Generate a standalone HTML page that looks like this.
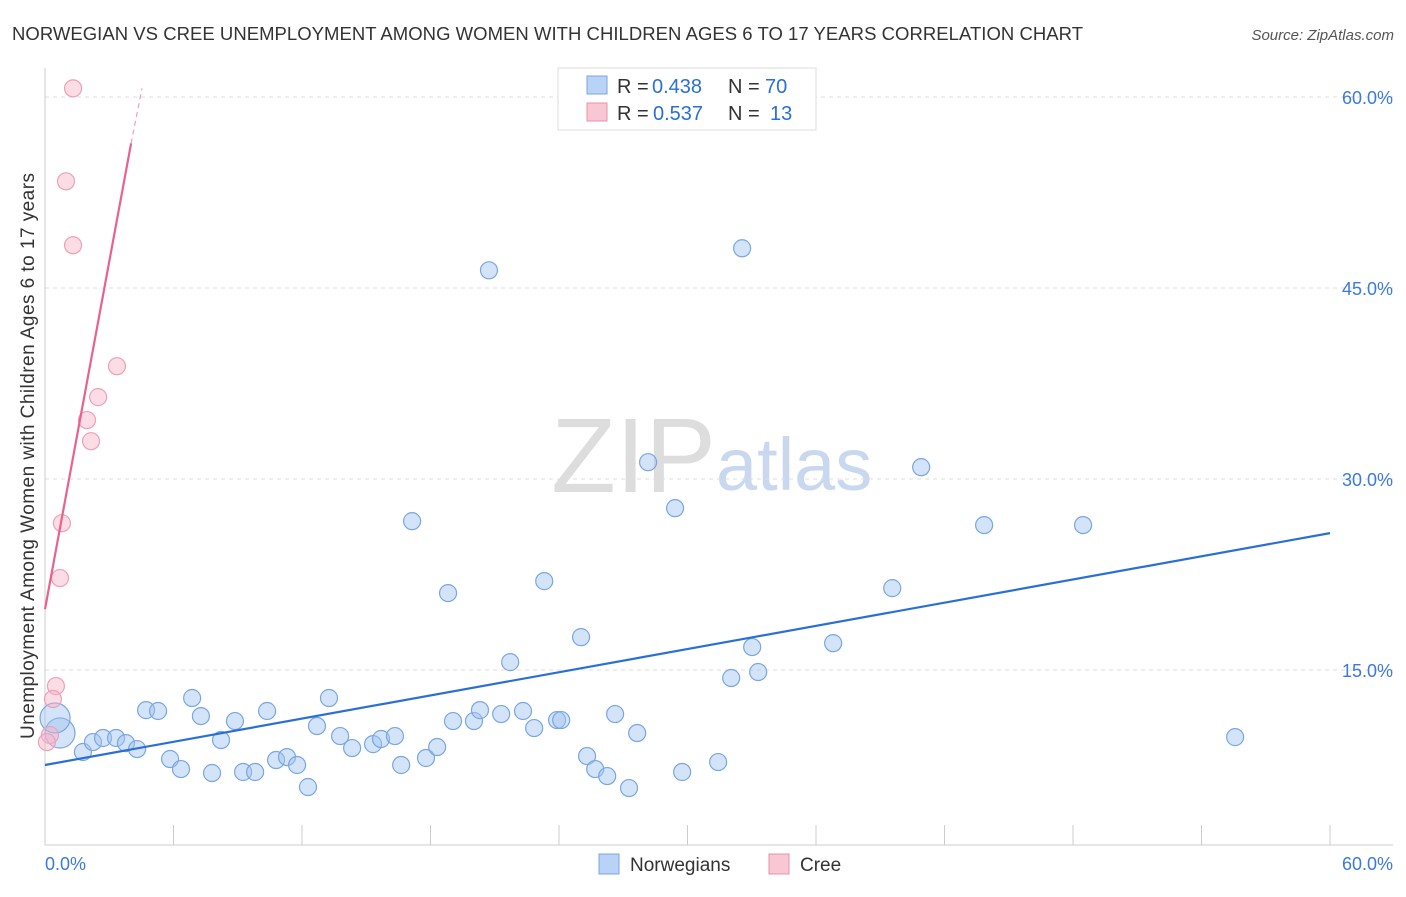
<!DOCTYPE html>
<html><head><meta charset="utf-8"><style>
body{margin:0;background:#fff;width:1406px;height:892px;overflow:hidden;font-family:"Liberation Sans",sans-serif}
svg text{font-family:"Liberation Sans",sans-serif}
</style></head><body>
<svg id="chart" width="1406" height="892">
<text x="12" y="40" font-size="18.5" fill="#333" textLength="1071">NORWEGIAN VS CREE UNEMPLOYMENT AMONG WOMEN WITH CHILDREN AGES 6 TO 17 YEARS CORRELATION CHART</text>
<text x="1394" y="40" font-size="15" fill="#555" font-style="italic" text-anchor="end">Source: ZipAtlas.com</text>
<text x="716" y="492" font-size="106" fill="#ddd" text-anchor="end" font-family="Liberation Serif">ZIP</text>
<text x="716" y="490" font-size="74" fill="#c9d8ef">atlas</text>
<text transform="translate(34,456) rotate(-90)" font-size="19" fill="#333" text-anchor="middle" textLength="566">Unemployment Among Women with Children Ages 6 to 17 years</text>
<g id="grid"></g><g id="marks"></g>
<g>
<rect x="558" y="68" width="258" height="62" fill="#fff" stroke="#ddd"/>
<rect x="587" y="76" width="20" height="18" fill="#b8d3f5" stroke="#7aa6e0"/>
<rect x="587" y="103" width="20" height="18" fill="#f9c6d4" stroke="#e890aa"/>
<text x="617" y="93" font-size="20" fill="#333">R =</text><text x="652" y="93" font-size="20" fill="#2a6fd6">0.438</text>
<text x="728" y="93" font-size="20" fill="#333">N =</text><text x="765" y="93" font-size="20" fill="#2a6fd6">70</text>
<text x="617" y="120" font-size="20" fill="#333">R =</text><text x="653" y="120" font-size="20" fill="#2a6fd6">0.537</text>
<text x="728" y="120" font-size="20" fill="#333">N =</text><text x="770" y="120" font-size="20" fill="#2a6fd6">13</text>
</g>
<g>
<rect x="599" y="854" width="20" height="20" fill="#b8d3f5" stroke="#7aa6e0"/>
<text x="630" y="871" font-size="19" fill="#333">Norwegians</text>
<rect x="769" y="854" width="20" height="20" fill="#f9c6d4" stroke="#e890aa"/>
<text x="800" y="871" font-size="19" fill="#333">Cree</text>
</g>
</svg>
<script>
const blueX=[0.70,0.47,1.77,2.24,2.71,3.32,3.78,4.30,4.72,5.28,5.84,6.35,6.87,7.28,7.80,8.22,8.87,9.25,9.81,10.37,10.79,11.30,11.77,12.28,12.70,13.26,13.78,14.34,15.32,15.69,16.34,16.63,17.14,17.79,18.31,18.82,19.05,20.03,20.31,20.73,21.30,21.72,22.32,22.84,23.31,23.91,24.10,25.03,25.31,25.69,26.25,26.62,27.27,27.65,28.16,29.42,29.75,31.43,32.04,32.55,33.02,33.30,36.80,39.56,40.91,43.85,48.47,55.57];
const blueY=[10.05,11.23,8.56,9.34,9.66,9.66,9.26,8.79,11.85,11.78,8.01,7.22,12.80,11.38,6.91,9.50,10.99,6.99,6.99,11.78,7.93,8.16,7.54,5.81,10.60,12.80,9.81,8.87,9.18,9.58,9.81,7.54,26.69,8.09,8.95,21.04,10.99,10.99,11.85,46.39,11.54,15.62,11.78,10.44,21.98,11.07,11.07,17.58,8.24,7.22,6.67,11.54,5.73,10.05,31.32,27.71,6.99,7.77,14.37,48.12,16.80,14.84,17.11,21.43,30.93,26.38,26.38,9.73];
const pinkX=[1.31,0.98,1.31,3.36,2.48,1.96,2.15,0.79,0.70,0.51,0.37,0.23,0.09];
const pinkY=[60.68,53.38,48.36,38.86,36.43,34.63,32.97,26.53,22.22,13.74,12.72,9.89,9.34];
const blueTrend=[[0,7.54],[60,25.75]];
const pinkTrend=[[0,19.78],[4.02,56.36]];
const pinkDash=[[4.02,56.36],[4.53,60.68]];
const yTicks=[15,30,45,60];
const yTickLabels=["15.0%","30.0%","45.0%","60.0%"];
const xTicks=[0,6,12,18,24,30,36,42,48,54,60];
const NS="http://www.w3.org/2000/svg";
const X=v=>45+v/60*1285, Y=v=>861-v/15*191;
function mk(t,a,p){const e=document.createElementNS(NS,t);for(const k in a)e.setAttribute(k,a[k]);p.appendChild(e);return e;}
const grid=document.getElementById('grid'),marks=document.getElementById('marks');
yTicks.forEach((t,i)=>{
 const l=mk('line',{x1:45,x2:1393,y1:Y(t),y2:Y(t),stroke:'#ddd','stroke-dasharray':'4,4'},grid);
 
 
 const tx=mk('text',{x:1393,y:Y(t)+7,'font-size':18,fill:'#3b7ad9','text-anchor':'end'},grid);tx.textContent=yTickLabels[i];
 
 
});
const ax=mk('line',{x1:45,x2:45,y1:68,y2:845,stroke:'#ccc'},grid);


const bx=mk('line',{x1:45,x2:1393,y1:845,y2:845,stroke:'#ccc'},grid);


xTicks.forEach(t=>{const l=mk('line',{x1:X(t),x2:X(t),y1:825,y2:845,stroke:'#ccc'},grid);
 
 });
const xl0=mk('text',{x:45,y:870,'font-size':18,fill:'#3b7ad9'},grid);xl0.textContent='0.0%';


const xl1=mk('text',{x:1393,y:870,'font-size':18,fill:'#3b7ad9','text-anchor':'end'},grid);xl1.textContent='60.0%';


blueX.forEach((x,i)=>{const r=i<2?15:8.5;
 const c=mk('circle',{cx:X(x),cy:Y(blueY[i]),r:r,fill:'rgba(160,196,240,0.45)',stroke:'#7aa6e0','stroke-width':1.2},marks);
 
 });
pinkX.forEach((x,i)=>{const c=mk('circle',{cx:X(x),cy:Y(pinkY[i]),r:8.5,fill:'rgba(248,180,200,0.45)',stroke:'#eda0b8','stroke-width':1.2},marks);
 
 });
const bt=mk('line',{x1:X(blueTrend[0][0]),y1:Y(blueTrend[0][1]),x2:X(blueTrend[1][0]),y2:Y(blueTrend[1][1]),stroke:'#2a6fd6','stroke-width':2.2},marks);


const pt=mk('line',{x1:X(pinkTrend[0][0]),y1:Y(pinkTrend[0][1]),x2:X(pinkTrend[1][0]),y2:Y(pinkTrend[1][1]),stroke:'#e8628e','stroke-width':2.2},marks);


const pd=mk('line',{x1:X(pinkDash[0][0]),y1:Y(pinkDash[0][1]),x2:X(pinkDash[1][0]),y2:Y(pinkDash[1][1]),stroke:'#eda0b8','stroke-width':1.2,'stroke-dasharray':'5,4'},marks);


</script>
</body></html>
